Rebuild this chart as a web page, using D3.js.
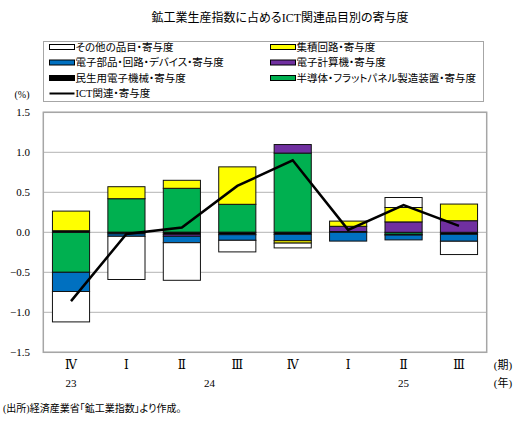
<!DOCTYPE html>
<html>
<head>
<meta charset="utf-8">
<script src="https://cdn.jsdelivr.net/npm/d3@7"></script>
<style>
  body { margin: 0; background: #fff; }
  text { font-family: "Liberation Serif", "Noto Sans CJK JP", serif; fill: #000;
         font-feature-settings: "palt"; }
</style>
</head>
<body>
<div id="chart"></div>
<script>
// quarters and years
var quarters = ["Ⅳ", "Ⅰ", "Ⅱ", "Ⅲ", "Ⅳ", "Ⅰ", "Ⅱ", "Ⅲ"];
var years = ["23", "24", "25"];
var yearAt = [0, 2.5, 6];   // category index under which the year sits

// contributions (%pt)
var semi     = [-0.50, 0.42, 0.55, 0.35, 0.99, 0.00, -0.025, 0.00];   // 半導体・FPD製造装置
var consumer = [0.02, -0.02, -0.025, -0.03, -0.025, 0.01, -0.01, -0.025]; // 民生用電子機械
var computer = [0.00, 0.00, -0.025, 0.00, 0.107, 0.065, 0.13, 0.145];  // 電子計算機
var parts    = [-0.24, -0.03, -0.08, -0.07, -0.08, -0.11, -0.06, -0.087]; // 電子部品・回路・デバイス
var ic       = [0.245, 0.15, 0.10, 0.468, -0.03, 0.065, 0.18, 0.208];  // 集積回路
var other    = [-0.38, -0.54, -0.47, -0.145, -0.06, 0.00, 0.125, -0.166]; // その他の品目
var ict      = [-0.86, -0.02, 0.06, 0.58, 0.90, 0.03, 0.34, 0.08];     // ICT関連

var yTicks = [1.5, 1.0, 0.5, 0.0, -0.5, -1.0, -1.5];

var width = 524, height = 423;
var margin = {top: 112.3, right: 37.3, bottom: 70.7, left: 43.3};

var keys = ["semi", "consumer", "computer", "parts", "ic", "other"];
var colors = {semi: "#00b050", consumer: "#000000", computer: "#7030a0",
              parts: "#0070c0", ic: "#ffff00", other: "#ffffff"};
var labels = {semi: "半導体・フラットパネル製造装置・寄与度", consumer: "民生用電子機械・寄与度",
              computer: "電子計算機・寄与度", parts: "電子部品・回路・デバイス・寄与度",
              ic: "集積回路・寄与度", other: "その他の品目・寄与度"};

var rows = quarters.map(function (q, i) {
    return {i: i, semi: semi[i], consumer: consumer[i], computer: computer[i],
            parts: parts[i], ic: ic[i], other: other[i]};
});

var svg = d3.select("#chart").append("svg")
    .attr("width", width)
    .attr("height", height);

var x = d3.scaleBand()
    .domain(d3.range(quarters.length))
    .range([margin.left, width - margin.right])
    .paddingInner(0.33)
    .paddingOuter(0.165);

var y = d3.scaleLinear()
    .domain([-1.5, 1.5])
    .range([height - margin.bottom, margin.top]);

// title
svg.append("text")
    .attr("x", 280).attr("y", 22)
    .attr("text-anchor", "middle")
    .style("font-size", "12px")
    .text("鉱工業生産指数に占めるICT関連品目別の寄与度");

// legend
var lg = svg.append("g");
lg.append("rect")
    .attr("x", 43.5).attr("y", 41.5)
    .attr("width", 440).attr("height", 60)
    .attr("fill", "none").attr("stroke", "#a6a6a6");

var legendItems = [
    {k: "other", col: 0, row: 0}, {k: "parts", col: 0, row: 1},
    {k: "consumer", col: 0, row: 2}, {k: "line", col: 0, row: 3},
    {k: "ic", col: 1, row: 0}, {k: "computer", col: 1, row: 1},
    {k: "semi", col: 1, row: 2}
];
legendItems.forEach(function (d) {
    var lx = d.col === 0 ? 49.5 : 270.5,
        ly = 47 + d.row * 15.5;
    if (d.k === "line") {
        lg.append("line")
            .attr("x1", lx).attr("x2", lx + 25)
            .attr("y1", ly).attr("y2", ly)
            .attr("stroke", "#000").attr("stroke-width", 2);
    } else {
        lg.append("rect")
            .attr("x", lx).attr("y", ly - 2.5)
            .attr("width", 25).attr("height", 5)
            .attr("fill", colors[d.k]).attr("stroke", "#000").attr("stroke-width", 1);
    }
    lg.append("text")
        .attr("x", lx + 26).attr("y", ly + 3.8)
        .style("font-size", "10.5px")
        .text(d.k === "line" ? "ICT関連・寄与度" : labels[d.k]);
});

// gridlines
svg.append("g").selectAll("line")
    .data(yTicks)
    .enter().append("line")
    .attr("x1", margin.left).attr("x2", width - margin.right)
    .attr("y1", function (d) { return y(d); })
    .attr("y2", function (d) { return y(d); })
    .attr("stroke", "#b3b3b3").attr("stroke-width", 1);

// plot frame
svg.append("rect")
    .attr("x", margin.left).attr("y", margin.top)
    .attr("width", width - margin.left - margin.right)
    .attr("height", height - margin.top - margin.bottom)
    .attr("fill", "none").attr("stroke", "#a6a6a6").attr("stroke-width", 1.5);

// y labels
svg.append("g").selectAll("text")
    .data(yTicks)
    .enter().append("text")
    .attr("x", 30)
    .attr("y", function (d) { return y(d) + 4; })
    .attr("text-anchor", "end")
    .style("font-size", "11px")
    .text(function (d) { return d < 0 ? "−" + (-d).toFixed(1) : d.toFixed(1); });

svg.append("text")
    .attr("x", 22).attr("y", 98)
    .attr("text-anchor", "middle")
    .style("font-size", "10px")
    .text("(%)");

// stacked bars
var stack = d3.stack().keys(keys).offset(d3.stackOffsetDiverging);
var series = stack(rows);

svg.append("g").selectAll("g")
    .data(series)
    .enter().append("g")
    .attr("fill", function (d) { return colors[d.key]; })
    .selectAll("rect")
    .data(function (d) { return d.filter(function (p) { return Math.abs(p[1] - p[0]) > 0.001; }); })
    .enter().append("rect")
    .attr("x", function (d) { return x(d.data.i); })
    .attr("width", x.bandwidth())
    .attr("y", function (d) { return y(Math.max(d[0], d[1])); })
    .attr("height", function (d) { return Math.abs(y(d[0]) - y(d[1])); })
    .attr("stroke", "#111")
    .attr("stroke-width", 1);

// ICT line
var line = d3.line()
    .x(function (d, i) { return x(i) + x.bandwidth() / 2; })
    .y(function (d) { return y(d); });

svg.append("path")
    .datum(ict)
    .attr("d", line)
    .attr("fill", "none")
    .attr("stroke", "#000")
    .attr("stroke-width", 2.5);

// x labels
svg.append("g").selectAll("text")
    .data(quarters)
    .enter().append("text")
    .attr("x", function (d, i) { return x(i) + x.bandwidth() / 2; })
    .attr("y", 369)
    .attr("text-anchor", "middle")
    .style("font-family", "\"DejaVu Serif\", \"Noto Sans CJK JP\", serif")
    .style("font-size", "12px")
    .text(function (d) { return d; });

svg.append("g").selectAll("text")
    .data(years)
    .enter().append("text")
    .attr("x", function (d, i) { return x(0) + x.step() * yearAt[i] + x.bandwidth() / 2; })
    .attr("y", 387)
    .attr("text-anchor", "middle")
    .style("font-size", "11px")
    .text(function (d) { return d; });

svg.append("text")
    .attr("x", 503).attr("y", 369)
    .attr("text-anchor", "middle")
    .style("font-size", "11px")
    .text("(期)");

svg.append("text")
    .attr("x", 503).attr("y", 387)
    .attr("text-anchor", "middle")
    .style("font-size", "11px")
    .text("(年)");

// source
svg.append("text")
    .attr("x", 3).attr("y", 412)
    .style("font-size", "10px")
    .text("(出所)経済産業省「鉱工業指数」より作成。");
</script>
</body>
</html>
